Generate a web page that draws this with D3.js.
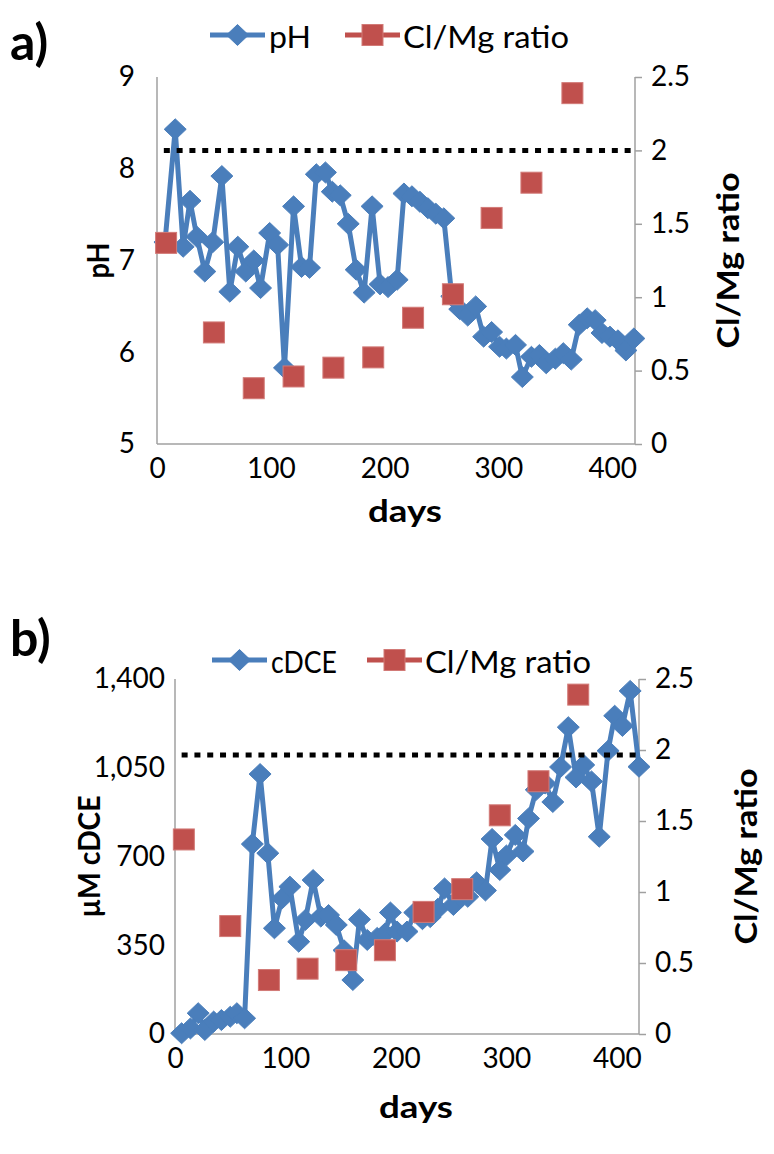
<!DOCTYPE html>
<html>
<head>
<meta charset="utf-8">
<script src="https://cdn.jsdelivr.net/npm/d3@7"></script>
<style>
  html, body { margin: 0; padding: 0; background: #fff; }
  svg { display: block; font-family: Lato, "Open Sans", sans-serif; }
</style>
</head>
<body>
<svg id="chart" width="774" height="1154"></svg>
<script>
// Sampling days and measured pH
const phDays = [7,16,23,29,35,42,49,57,64,71,78,85,91,99,106,112,120,127,134,140,148,154,161,168,175,182,189,196,203,211,217,224,231,238,245,252,259,266,273,280,287,294,301,307,315,321,329,336,342,350,357,364,371,378,385,391,398,405,412,419];
const phValues = [7.20,8.43,7.15,7.65,7.26,6.88,7.20,7.92,6.66,7.15,6.88,7.00,6.70,7.30,7.17,5.83,7.59,6.93,6.92,7.94,7.96,7.75,7.71,7.40,6.90,6.65,7.59,6.74,6.71,6.79,7.73,7.70,7.64,7.57,7.51,7.46,6.61,6.47,6.40,6.50,6.17,6.22,6.06,6.04,6.08,5.73,5.95,5.97,5.88,5.93,5.99,5.92,6.30,6.37,6.35,6.21,6.17,6.13,6.02,6.15];

// Sampling days and cis-DCE concentration (µM)
const cdceDays = [6,14,21,27,35,42,50,56,63,70,77,84,90,97,104,112,118,125,132,139,146,153,161,167,174,183,190,195,201,210,217,224,231,238,244,252,259,265,273,281,287,294,300,308,315,320,327,335,342,349,356,363,370,377,384,392,398,405,412,420];
const cdceValues = [3,22,82,16,49,55,68,82,62,749,1025,713,417,535,581,364,450,607,463,469,430,330,213,452,371,379,396,479,404,404,479,453,461,494,574,509,541,541,598,566,769,647,704,785,720,850,963,988,915,1053,1210,1012,1061,996,778,1117,1255,1215,1353,1054];

// Cl/Mg ratio samples (shared by both panels)
const ratioDays = [8,50,85,120,155,190,225,260,294,329,365];
const ratioValues = [1.37,0.76,0.38,0.46,0.52,0.59,0.86,1.02,1.54,1.78,2.39];

// Reference levels drawn as dotted lines
const ratioThreshold = 2;      // panel a, on the ratio axis
const cdceThreshold = 1100;    // panel b, on the µM axis
const thresholdStart = 6;

// Axis ticks
const dayTicks = [0,100,200,300,400];
const phTicks = [5,6,7,8,9];
const cdceTicks = [0,350,700,1050,1400];
const ratioTicks = [0,0.5,1,1.5,2,2.5];

const BLUE = "#4a7ebb", RED = "#c0504d", AXIS = "#a0a0a0";
const svg = d3.select("#chart");

function diamond(g, x, y) {
  g.append("path")
    .attr("d", `M${x},${y-10.5} L${x+11},${y} L${x},${y+10.5} L${x-11},${y} Z`)
    .attr("fill", BLUE).attr("stroke", BLUE).attr("stroke-width", 1);
}
function square(g, x, y) {
  g.append("rect").attr("x", x-10.5).attr("y", y-10.5).attr("width", 21).attr("height", 21)
    .attr("fill", RED).attr("stroke", "#d27a77").attr("stroke-width", 1);
}
// text stretched to a fixed run length
function label(g, txt, len) {
  return g.append("text").text(txt).attr("textLength", len).attr("lengthAdjust", "spacingAndGlyphs");
}

function panel(cfg) {
  const g = svg.append("g");
  const x = d3.scaleLinear().domain([0, 420]).range([cfg.left, cfg.right]);
  const yL = d3.scaleLinear().domain(cfg.leftDomain).range([cfg.bottom, cfg.top]);
  const yR = d3.scaleLinear().domain([0, 2.5]).range([cfg.bottom, cfg.top]);

  // axis lines
  g.append("line").attr("x1", cfg.left).attr("x2", cfg.left).attr("y1", cfg.top).attr("y2", cfg.bottom)
    .attr("stroke", AXIS).attr("stroke-width", 1.5);
  g.append("line").attr("x1", cfg.left).attr("x2", cfg.right).attr("y1", cfg.bottom).attr("y2", cfg.bottom)
    .attr("stroke", AXIS).attr("stroke-width", 1.5);

  // right axis with outward ticks
  const rAxis = d3.axisRight(yR).tickValues(ratioTicks).tickSize(7).tickPadding(9)
    .tickFormat(d3.format(""));
  const rg = g.append("g").attr("transform", `translate(${cfg.right},0)`).call(rAxis);
  rg.select(".domain").attr("stroke", AXIS).attr("stroke-width", 1.5).attr("d", `M0,${cfg.top}V${cfg.bottom}`);
  rg.selectAll(".tick line").attr("stroke", AXIS).attr("stroke-width", 1.5);
  rg.selectAll(".tick text").attr("font-size", 28).attr("fill", "#000").attr("font-family", "Lato");

  // left axis labels (no tick marks)
  const lAxis = d3.axisLeft(yL).tickValues(cfg.leftTicks).tickSize(0).tickPadding(cfg.leftPad)
    .tickFormat(cfg.leftFormat);
  const lg = g.append("g").attr("transform", `translate(${cfg.left},0)`).call(lAxis);
  lg.select(".domain").remove();
  lg.selectAll(".tick text").attr("font-size", 28).attr("fill", "#000").attr("font-family", "Lato");

  // bottom axis labels
  const bAxis = d3.axisBottom(x).tickValues(dayTicks).tickSize(0).tickPadding(14);
  const bg = g.append("g").attr("transform", `translate(0,${cfg.bottom})`).call(bAxis);
  bg.select(".domain").remove();
  bg.selectAll(".tick text").attr("font-size", 28).attr("fill", "#000").attr("font-family", "Lato");

  // main series line + diamonds
  const pts = cfg.days.map((d, i) => [x(d), yL(cfg.values[i])]);
  g.append("path").attr("d", d3.line()(pts)).attr("fill", "none")
    .attr("stroke", BLUE).attr("stroke-width", 5).attr("stroke-linejoin", "round");
  const mk = g.append("g");
  pts.forEach(p => diamond(mk, p[0], p[1]));

  // Cl/Mg ratio squares
  const sq = g.append("g");
  ratioDays.forEach((d, i) => square(sq, x(d), yR(ratioValues[i])));

  // dotted reference line
  const ty = cfg.thresholdOnRatio ? yR(cfg.threshold) : yL(cfg.threshold);
  g.append("line").attr("x1", x(thresholdStart)).attr("x2", cfg.right).attr("y1", ty).attr("y2", ty)
    .attr("stroke", "#000").attr("stroke-width", 5).attr("stroke-dasharray", "6,6.8");

  // axis titles
  label(g, "days", 74).attr("x", (cfg.left + cfg.right) / 2 + 9 - 37).attr("y", cfg.daysY)
    .attr("font-weight", "bold").attr("font-size", 31);
  const midY = (cfg.top + cfg.bottom) / 2;
  label(g, cfg.leftTitle, cfg.leftTitleLen)
    .attr("transform", `translate(${cfg.leftTitleX},${midY + cfg.leftTitleLen / 2}) rotate(-90)`)
    .attr("dominant-baseline", "central").attr("font-weight", "bold").attr("font-size", 31);
  label(g, "Cl/Mg ratio", 176)
    .attr("transform", `translate(${cfg.rightTitleX},${midY + 88}) rotate(-90)`)
    .attr("dominant-baseline", "central").attr("font-weight", "bold").attr("font-size", 31);

  // panel letter
  g.append("text").attr("x", 10).attr("y", cfg.letterY).attr("font-weight", "bold")
    .attr("font-size", 50).text(cfg.letter);

  // legend
  const lgd = g.append("g").attr("font-size", 30);
  const ly = cfg.legendY;
  lgd.append("line").attr("x1", cfg.leg[0]).attr("x2", cfg.leg[0] + 55).attr("y1", ly).attr("y2", ly)
    .attr("stroke", BLUE).attr("stroke-width", 5);
  diamond(lgd, cfg.leg[0] + 27.5, ly);
  label(lgd, cfg.seriesName, cfg.seriesLen).attr("x", cfg.leg[0] + 59).attr("y", ly + 1)
    .attr("dominant-baseline", "central");
  lgd.append("line").attr("x1", cfg.leg[1]).attr("x2", cfg.leg[1] + 55).attr("y1", ly).attr("y2", ly)
    .attr("stroke", RED).attr("stroke-width", 5);
  square(lgd, cfg.leg[1] + 27.5, ly);
  label(lgd, "Cl/Mg ratio", 166).attr("x", cfg.leg[1] + 58).attr("y", ly + 1)
    .attr("dominant-baseline", "central");
}

panel({
  left: 157, right: 635, top: 77, bottom: 444,
  leftDomain: [5, 9], leftTicks: phTicks, leftFormat: d3.format(""), leftPad: 22,
  days: phDays, values: phValues,
  threshold: ratioThreshold, thresholdOnRatio: true,
  daysY: 522, leftTitle: "pH", leftTitleLen: 36, leftTitleX: 97, rightTitleX: 727,
  letter: "a)", letterY: 60, legendY: 35, leg: [210, 345], seriesName: "pH", seriesLen: 42
});

panel({
  left: 175, right: 639, top: 679, bottom: 1034,
  leftDomain: [0, 1400], leftTicks: cdceTicks, leftFormat: d3.format(","), leftPad: 10,
  days: cdceDays, values: cdceValues,
  threshold: cdceThreshold, thresholdOnRatio: false,
  daysY: 1118, leftTitle: "µM cDCE", leftTitleLen: 122, leftTitleX: 88, rightTitleX: 745,
  letter: "b)", letterY: 656, legendY: 660, leg: [212, 367], seriesName: "cDCE", seriesLen: 66
});
</script>
</body>
</html>
